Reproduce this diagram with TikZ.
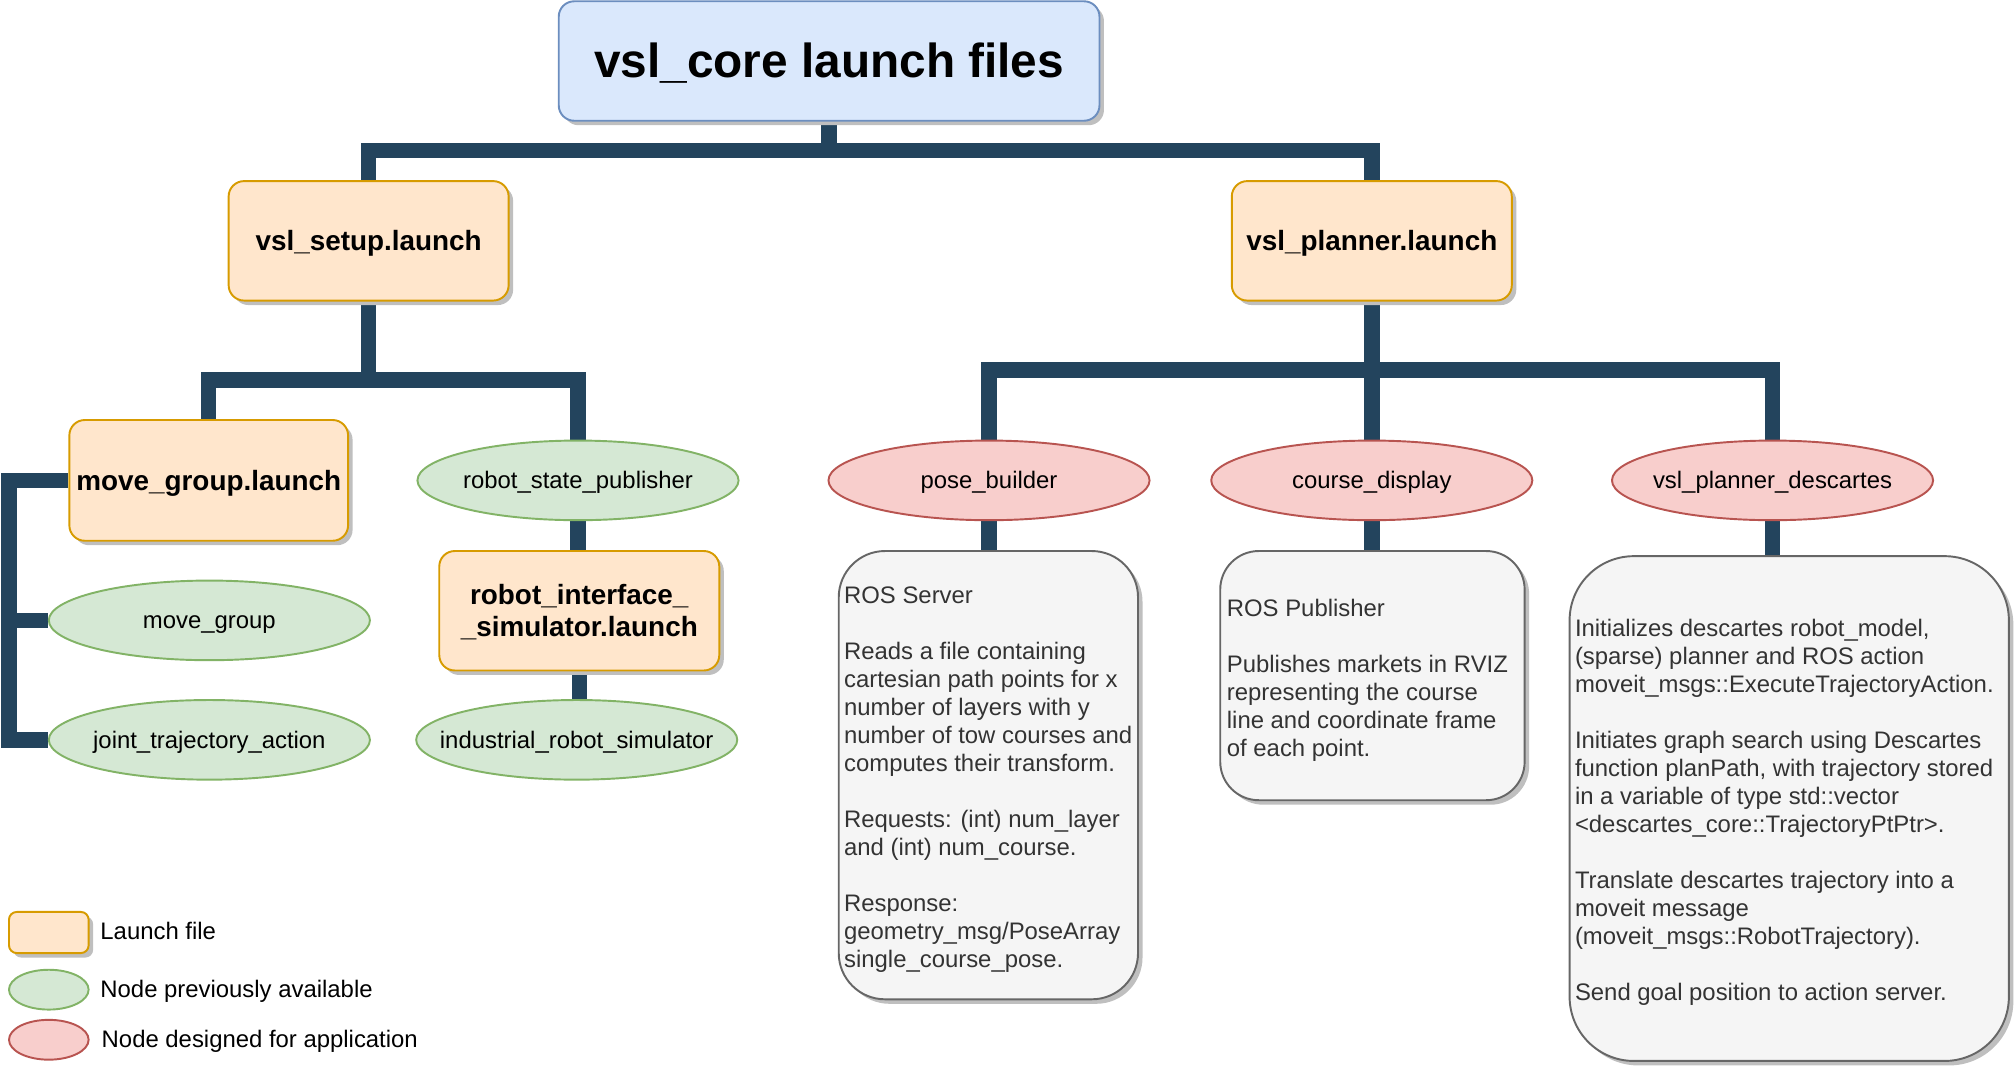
\documentclass[tikz,border=0pt]{standalone}
\usepackage{fontspec}
\setmainfont{Liberation Sans}
\usetikzlibrary{shapes.geometric,shadows,backgrounds}
\definecolor{conncol}{HTML}{23445D}
\definecolor{bluefill}{HTML}{DAE8FC}
\definecolor{bluedraw}{HTML}{6C8EBF}
\definecolor{orfill}{HTML}{FFE6CC}
\definecolor{ordraw}{HTML}{D79B00}
\definecolor{grfill}{HTML}{D5E8D4}
\definecolor{grdraw}{HTML}{82B366}
\definecolor{rdfill}{HTML}{F8CECC}
\definecolor{rddraw}{HTML}{B85450}
\definecolor{gyfill}{HTML}{F5F5F5}
\definecolor{gydraw}{HTML}{666666}
\definecolor{gytext}{HTML}{333333}
\newcommand\zw[1]{\makebox[0pt]{#1}}
\tikzset{
  shad/.style={drop shadow={shadow xshift=3.5pt,shadow yshift=-3.5pt,fill=black!25,opacity=1}},
  conn/.style={draw=conncol,line width=12pt,line join=miter},
  titlebox/.style={shad,draw=bluedraw,fill=bluefill,line width=1.5pt,rounded corners=12pt,
    minimum width=421pt,minimum height=93pt,inner sep=0pt,text height=33.7pt,text depth=7.9pt,
    font=\fontsize{37.2}{44}\selectfont\bfseries},
  launchbox/.style={shad,draw=ordraw,fill=orfill,line width=1.5pt,rounded corners=12pt,
    minimum width=218pt,minimum height=93pt,inner sep=0pt,align=center,
    font=\fontsize{21.7}{25}\selectfont\bfseries},
  onel/.style={text height=19.6pt,text depth=4.6pt},
  oldnode/.style={ellipse,draw=grdraw,fill=grfill,line width=1.5pt,
    minimum width=250pt,minimum height=62pt,inner sep=0pt,text height=16.8pt,text depth=3.9pt,
    font=\fontsize{18.6}{21.8}\selectfont},
  newnode/.style={ellipse,draw=rddraw,fill=rdfill,line width=1.5pt,
    minimum width=250pt,minimum height=62pt,inner sep=0pt,text height=16.8pt,text depth=3.9pt,
    font=\fontsize{18.6}{21.8}\selectfont},
  notebox/.style={shad,draw=gydraw,fill=gyfill,line width=1.5pt,inner sep=0pt},
  notetext/.style={anchor=west,align=left,inner sep=0pt,text=gytext,
    font=\fontsize{18.6}{21.8}\selectfont},
  legtext/.style={anchor=west,inner sep=0pt,text height=16.8pt,text depth=3.9pt,
    font=\fontsize{18.6}{21.8}\selectfont}
}
\begin{document}
\begin{tikzpicture}[x=1pt,y=-1pt]
\useasboundingbox (0,0) rectangle (1568,832);

% top level
\node[titlebox] (title) at (645.5,47.5) {vsl\_core launch files};
\node[launchbox,onel] (setup) at (287,187.5) {vsl\_setup.launch};
\node[launchbox,onel] (planner) at (1068,187.5) {vsl\_planner.launch};

% setup branch
\node[launchbox,onel,minimum width=217pt,minimum height=94pt] (mgl) at (162.5,374) {move\_group.launch};
\node[oldnode] (rsp) at (450,374) {\zw{robot\_state\_publisher}};
\node[launchbox,text height=44.6pt,text depth=4.6pt] (ris) at (451,475.5) {robot\_interface\_\\\_simulator.launch};
\node[oldnode] (irs) at (449,576) {\zw{industrial\_robot\_simulator}};
\node[oldnode] (mg) at (163,483) {\zw{move\_group}};
\node[oldnode] (jta) at (163,576) {\zw{joint\_trajectory\_action}};

% planner branch
\node[newnode] (pb) at (770,374) {\zw{pose\_builder}};
\node[newnode] (cd) at (1068,374) {\zw{course\_display}};
\node[newnode] (vpd) at (1380,374) {\zw{vsl\_planner\_descartes}};

\node[notebox,rounded corners=36pt,minimum width=233pt,minimum height=349pt] (rs) at (769.5,603.5) {};
\node[notetext] (rst) at (657,607) {ROS Server\\[21.8pt]
Reads a file containing\\
cartesian path points for x\\
number of layers with y\\
number of tow courses and\\
computes their transform.\\[21.8pt]
Requests: (int) num\_layer\\
and (int) num\_course.\\[21.8pt]
Response:\\
geometry\_msg/PoseArray\\
single\_course\_pose.};

\node[notebox,rounded corners=30pt,minimum width=237pt,minimum height=194pt] (rp) at (1068.5,526) {};
\node[notetext] (rpt) at (955,529.5) {ROS Publisher\\[21.8pt]
Publishes markets in RVIZ\\
representing the course\\
line and coordinate frame\\
of each point.};

\node[notebox,rounded corners=50pt,minimum width=342pt,minimum height=393pt] (ds) at (1393,629.5) {};
\node[notetext] (dst) at (1226,632.5) {Initializes descartes robot\_model,\\
(sparse) planner and ROS action\\
moveit\_msgs::ExecuteTrajectoryAction.\\[21.8pt]
Initiates graph search using Descartes\\
function planPath, with trajectory stored\\
in a variable of type std::vector\\
<descartes\_core::TrajectoryPtPtr>.\\[21.8pt]
Translate descartes trajectory into a\\
moveit message\\
(moveit\_msgs::RobotTrajectory).\\[21.8pt]
Send goal position to action server.};

% legend
\node[shad,draw=ordraw,fill=orfill,line width=1.5pt,rounded corners=6pt,minimum width=62pt,minimum height=32pt,inner sep=0pt] (lgl) at (38,726) {};
\node[ellipse,draw=grdraw,fill=grfill,line width=1.5pt,minimum width=62pt,minimum height=31pt,inner sep=0pt] (lgo) at (38,770.5) {};
\node[ellipse,draw=rddraw,fill=rdfill,line width=1.5pt,minimum width=62pt,minimum height=31pt,inner sep=0pt] (lgn) at (38,809.5) {};
\node[legtext] (lgl-t) at (78,725) {Launch file};
\node[legtext] (lgo-t) at (78,770) {Node previously available};
\node[legtext] (lgn-t) at (79,809) {Node designed for application};

% connectors
\coordinate (j1) at (645.5,117);
\coordinate (j2) at (287,296);
\coordinate (j3) at (1068,288);
\coordinate (brk) at (7,0);
\begin{pgfonlayer}{background}
\draw[conn] (title.south) -- (j1);
\draw[conn] (setup.north) -- (setup.north |- j1) -- (planner.north |- j1) -- (planner.north);
\draw[conn] (setup.south) -- (j2);
\draw[conn] (mgl.north) -- (mgl.north |- j2) -- (rsp.north |- j2) -- (rsp.north);
\draw[conn] (rsp.south) -- (rsp.south |- ris.north);
\draw[conn] (ris.south) -- (ris.south |- irs.north);
\draw[conn] (mgl.west) -- (mgl.west -| brk) -- (jta.west -| brk) -- (jta.west);
\draw[conn] (mg.west -| brk) -- (mg.west);
\draw[conn] (planner.south) -- (cd.north);
\draw[conn] (pb.north) -- (pb.north |- j3) -- (vpd.north |- j3) -- (vpd.north);
\draw[conn] (pb.south) -- (pb.south |- rs.north);
\draw[conn] (cd.south) -- (cd.south |- rp.north);
\draw[conn] (vpd.south) -- (vpd.south |- ds.north);
\end{pgfonlayer}
\end{tikzpicture}
\end{document}
